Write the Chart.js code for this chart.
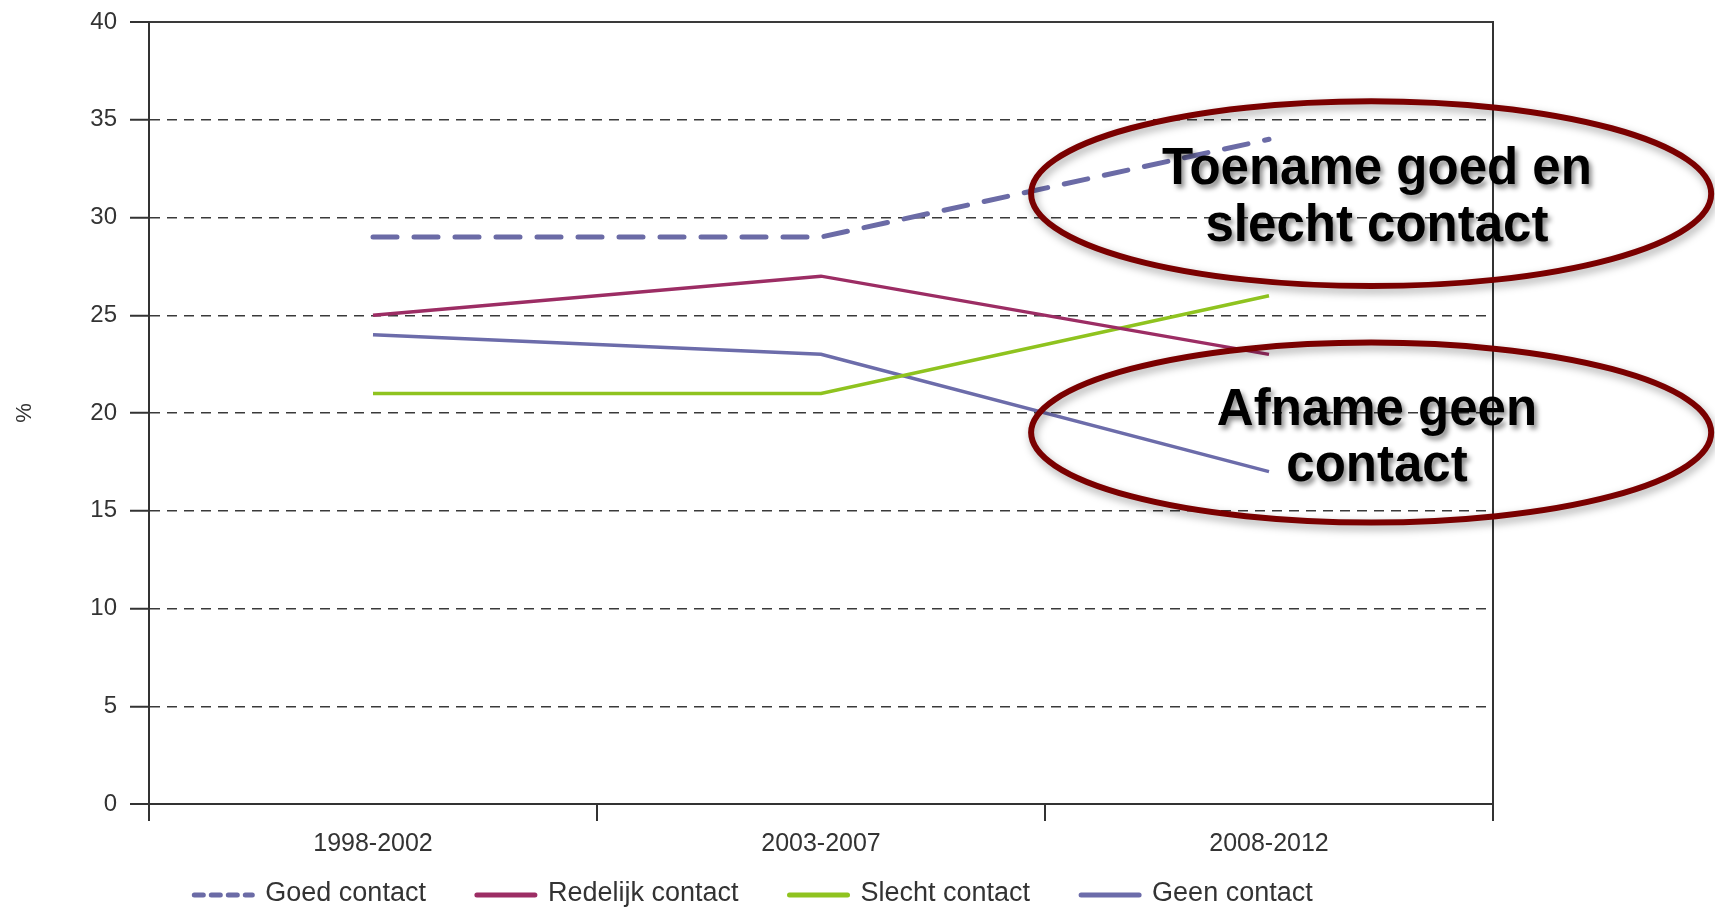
<!DOCTYPE html>
<html>
<head>
<meta charset="utf-8">
<script src="https://cdn.jsdelivr.net/npm/chart.js@4.4.1/dist/chart.umd.min.js"></script>
<style>
  html, body { margin: 0; padding: 0; background: #fff; }
  #wrap { width: 1715px; height: 907px; }
</style>
</head>
<body>
<div id="wrap"><canvas id="chart" width="1715" height="907"></canvas></div>
<script>
// data
const periods = ['1998-2002', '2003-2007', '2008-2012'];
const goedContact = [29, 29, 34];
const redelijkContact = [25, 27, 23];
const slechtContact = [21, 21, 26];
const geenContact = [24, 23, 17];
const seriesNames = ['Goed contact', 'Redelijk contact', 'Slecht contact', 'Geen contact'];
const yMin = 0, yMax = 40, yStep = 5;

// callout ellipses, positioned in axis units (x = category index, y = %)
const callouts = [
  { cx: 2.228, cy: 31.22, rx: 0.759, ry: 4.73, tx: 2.241, lines: ['Toename goed en', 'slecht contact'], lineY: [32.42, 29.51] },
  { cx: 2.228, cy: 19.0, rx: 0.759, ry: 4.6, tx: 2.241, lines: ['Afname geen', 'contact'], lineY: [20.13, 17.23] },
];

const AXIS = '#333333';
const GRID = '#3a3a3a';
const FONT = '"Liberation Sans", Arial, Helvetica, sans-serif';

const isEdge = (v) => v === yMin || v === yMax;

// draws the ellipses and their labels on top of the lines
const calloutPlugin = {
  id: 'callouts',
  afterDatasetsDraw(chart) {
    const { ctx, scales: { x, y } } = chart;
    callouts.forEach(c => {
      const cx = x.getPixelForValue(c.cx);
      const cy = y.getPixelForValue(c.cy);
      const rx = x.getPixelForValue(c.cx + c.rx) - cx;
      const ry = cy - y.getPixelForValue(c.cy + c.ry);
      ctx.save();
      ctx.shadowColor = 'rgba(0,0,0,0.35)';
      ctx.shadowBlur = 8;
      ctx.shadowOffsetX = 2;
      ctx.shadowOffsetY = 4;
      ctx.strokeStyle = '#7a0000';
      ctx.lineWidth = 6;
      ctx.beginPath();
      ctx.ellipse(cx, cy, rx, ry, 0, 0, Math.PI * 2);
      ctx.stroke();
      ctx.restore();

      ctx.save();
      ctx.font = 'bold 51px ' + FONT;
      ctx.textAlign = 'center';
      ctx.textBaseline = 'middle';
      ctx.fillStyle = '#000';
      ctx.shadowColor = 'rgba(0,0,0,0.45)';
      ctx.shadowBlur = 5;
      ctx.shadowOffsetX = 3;
      ctx.shadowOffsetY = 4;
      const tx = x.getPixelForValue(c.tx);
      c.lines.forEach((t, i) => ctx.fillText(t, tx, y.getPixelForValue(c.lineY[i])));
      ctx.restore();
    });
  }
};

// legend along the bottom, spaced like the original
const legendPlugin = {
  id: 'bottomLegend',
  afterDraw(chart) {
    const { ctx } = chart;
    const lineLen = 64, gap = 10, spacing = 48, cy = 894, centerX = 752;
    ctx.save();
    ctx.font = '27px ' + FONT;
    const widths = chart.data.datasets.map(ds => lineLen + gap + ctx.measureText(ds.label).width);
    const total = widths.reduce((a, b) => a + b, 0) + spacing * (widths.length - 1);
    let xPos = centerX - total / 2;
    chart.data.datasets.forEach((ds, i) => {
      ctx.strokeStyle = ds.borderColor;
      ctx.lineWidth = 5;
      ctx.lineCap = 'round';
      ctx.setLineDash(ds.borderDash ? [9, 8] : []);
      ctx.beginPath();
      ctx.moveTo(xPos + 3, cy + 1);
      ctx.lineTo(xPos + lineLen - 3, cy + 1);
      ctx.stroke();
      ctx.setLineDash([]);
      ctx.fillStyle = AXIS;
      ctx.textBaseline = 'middle';
      ctx.textAlign = 'left';
      ctx.fillText(ds.label, xPos + lineLen + gap, cy);
      xPos += widths[i] + spacing;
    });
    ctx.restore();
  }
};

const lineDefaults = { pointRadius: 0, pointHoverRadius: 0, tension: 0, fill: false, borderWidth: 3.5 };

new Chart(document.getElementById('chart'), {
  type: 'line',
  data: {
    labels: periods,
    datasets: [
      { ...lineDefaults, label: seriesNames[0], data: goedContact, borderColor: '#6b6ba6', borderWidth: 5, borderDash: [24, 17], borderCapStyle: 'round' },
      { ...lineDefaults, label: seriesNames[1], data: redelijkContact, borderColor: '#9c2d64' },
      { ...lineDefaults, label: seriesNames[2], data: slechtContact, borderColor: '#8fc31f' },
      { ...lineDefaults, label: seriesNames[3], data: geenContact, borderColor: '#6c6caa' },
    ],
  },
  options: {
    responsive: false,
    animation: false,
    devicePixelRatio: 1,
    layout: { autoPadding: false, padding: { top: 22, right: 222, bottom: 43, left: 0 } },
    plugins: {
      legend: { display: false },
      tooltip: { enabled: false },
    },
    scales: {
      x: {
        offset: true,
        grid: {
          display: true,
          offset: true,
          drawOnChartArea: false,
          drawTicks: true,
          tickLength: 17,
          color: AXIS,
          lineWidth: 2,
        },
        border: { display: true, color: AXIS, width: 2 },
        ticks: { color: AXIS, font: { size: 25, family: FONT }, padding: 8, maxRotation: 0, autoSkip: false },
        afterFit: (s) => { s.height = 60; s.paddingLeft = 0; s.paddingRight = 0; },
      },
      y: {
        min: yMin,
        max: yMax,
        ticks: { stepSize: yStep, color: AXIS, font: { size: 24, family: FONT }, padding: 13 },
        grid: {
          color: GRID,
          lineWidth: (ctx) => (ctx.tick && isEdge(ctx.tick.value)) ? 2 : 1.5,
          tickLength: 19,
          tickColor: AXIS,
          tickWidth: 2,
          tickBorderDash: [],
        },
        border: {
          display: true,
          color: AXIS,
          width: 2,
          dash: (ctx) => (!ctx.tick || isEdge(ctx.tick.value)) ? [] : [10, 7],
        },
        title: { display: true, text: '%', color: AXIS, font: { size: 22, family: FONT }, padding: { top: 12, bottom: 0 } },
        afterFit: (s) => { s.width = 149; s.paddingTop = 0; s.paddingBottom = 0; },
      },
      y2: {
        position: 'right',
        min: yMin,
        max: yMax,
        display: true,
        grid: { display: false },
        ticks: { display: false },
        border: { display: true, color: AXIS, width: 2 },
        afterFit: (s) => { s.width = 0; s.paddingTop = 0; s.paddingBottom = 0; },
      },
    },
  },
  plugins: [calloutPlugin, legendPlugin],
});
</script>
</body>
</html>
